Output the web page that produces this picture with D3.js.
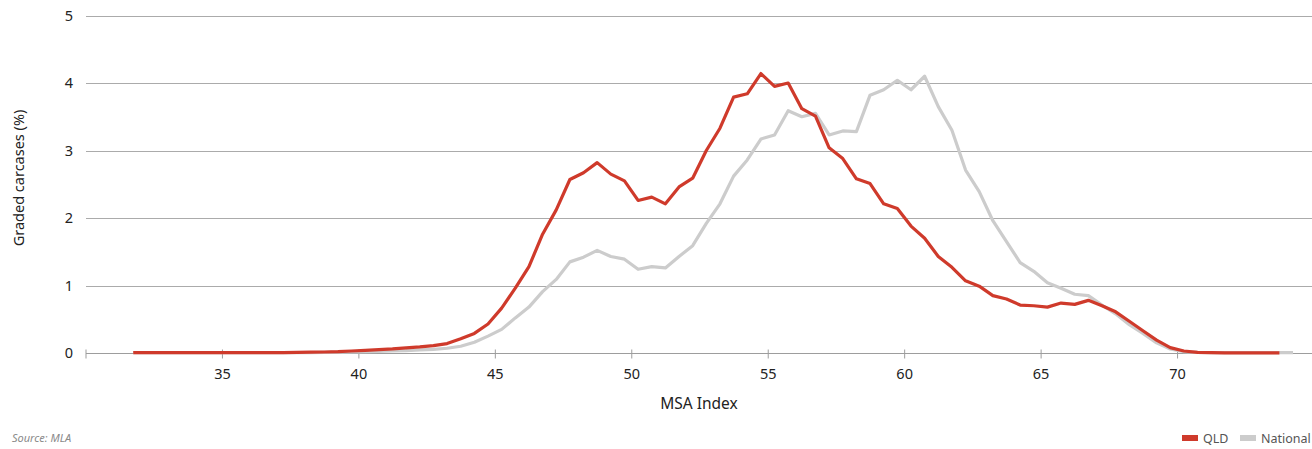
<!DOCTYPE html>
<html>
<head>
<meta charset="utf-8">
<script src="https://cdn.jsdelivr.net/npm/d3@7"></script>
<style>
  html, body { margin: 0; padding: 0; background: #fff; }
  svg { display: block; font-family: "Noto Sans", "Open Sans", sans-serif; }
</style>
</head>
<body>
<svg id="chart" width="1312" height="449"></svg>
<script>
// MSA index bin mid-points
const msa = [31.75, 32.25, 32.75, 33.25, 33.75, 34.25, 34.75, 35.25, 35.75, 36.25,
  36.75, 37.25, 37.75, 38.25, 38.75, 39.25, 39.75, 40.25, 40.75, 41.25,
  41.75, 42.25, 42.75, 43.25, 43.75, 44.25, 44.75, 45.25, 45.75, 46.25,
  46.75, 47.25, 47.75, 48.25, 48.75, 49.25, 49.75, 50.25, 50.75, 51.25,
  51.75, 52.25, 52.75, 53.25, 53.75, 54.25, 54.75, 55.25, 55.75, 56.25,
  56.75, 57.25, 57.75, 58.25, 58.75, 59.25, 59.75, 60.25, 60.75, 61.25,
  61.75, 62.25, 62.75, 63.25, 63.75, 64.25, 64.75, 65.25, 65.75, 66.25,
  66.75, 67.25, 67.75, 68.25, 68.75, 69.25, 69.75, 70.25, 70.75, 71.25,
  71.75, 72.25, 72.75, 73.25, 73.75, 74.25];

const qld = [0.005, 0.005, 0.005, 0.005, 0.005, 0.005, 0.005, 0.005, 0.005, 0.005,
  0.005, 0.007, 0.01, 0.012, 0.015, 0.02, 0.03, 0.04, 0.05, 0.06,
  0.075, 0.09, 0.11, 0.14, 0.21, 0.29, 0.43, 0.665, 0.96, 1.28,
  1.76, 2.12, 2.57, 2.67, 2.82, 2.65, 2.55, 2.26, 2.31, 2.21,
  2.46, 2.59, 3.0, 3.33, 3.79, 3.84, 4.14, 3.95, 4.0, 3.62,
  3.51, 3.04, 2.88, 2.58, 2.51, 2.21, 2.14, 1.88, 1.70, 1.43,
  1.27, 1.07, 0.99, 0.85, 0.80, 0.71, 0.70, 0.68, 0.74, 0.72,
  0.78, 0.70, 0.61, 0.47, 0.33, 0.19, 0.08, 0.03, 0.01, 0.005,
  0.003, 0.003, 0.003, 0.003, 0.003];

const national = [0.005, 0.005, 0.005, 0.005, 0.005, 0.005, 0.005, 0.005, 0.005, 0.005,
  0.007, 0.007, 0.007, 0.007, 0.01, 0.012, 0.015, 0.02, 0.025, 0.03,
  0.035, 0.045, 0.055, 0.07, 0.1, 0.16, 0.25, 0.35, 0.52, 0.68,
  0.91, 1.09, 1.35, 1.42, 1.52, 1.43, 1.39, 1.24, 1.28, 1.26,
  1.43, 1.59, 1.92, 2.21, 2.62, 2.86, 3.17, 3.23, 3.59, 3.50,
  3.55, 3.23, 3.29, 3.28, 3.82, 3.90, 4.04, 3.90, 4.10, 3.65,
  3.30, 2.71, 2.39, 1.96, 1.65, 1.34, 1.21, 1.04, 0.96, 0.87,
  0.85, 0.71, 0.58, 0.42, 0.29, 0.15, 0.06, 0.02, 0.01, 0.005,
  0.005, 0.005, 0.005, 0.005, 0.005, 0.005];

const xTicks = [30, 35, 40, 45, 50, 55, 60, 65, 70, 75];
const xTickLabels = ["", "35", "40", "45", "50", "55", "60", "65", "70", ""];
const yTicks = [0, 1, 2, 3, 4, 5];

const seriesNames = ["QLD", "National"];
const seriesColors = ["#cf3a2b", "#cccccc"];

const svg = d3.select("#chart");

const x = d3.scaleLinear().domain([30, 75]).range([85.5, 1313.5]);
const y = d3.scaleLinear().domain([0, 5]).range([353, 15.5]);

// gridlines + y labels
const yAxis = d3.axisLeft(y).tickValues(yTicks).tickSize(0).tickPadding(13)
  .tickFormat(d3.format("d"));
const gy = svg.append("g").attr("transform", "translate(86,0)").call(yAxis);
gy.select(".domain").remove();
gy.selectAll("text").attr("font-size", 14.5).attr("fill", "#222")
  .attr("font-family", "'Noto Sans', 'Open Sans', sans-serif");

svg.append("g").selectAll("line").data(yTicks.filter(d => d > 0)).join("line")
  .attr("x1", 86).attr("x2", 1312)
  .attr("y1", d => Math.round(y(d)) + 0.5).attr("y2", d => Math.round(y(d)) + 0.5)
  .attr("stroke", "#ababab").attr("stroke-width", 1);

// x axis
const xAxis = d3.axisBottom(x).tickValues(xTicks).tickSizeInner(5).tickSizeOuter(0)
  .tickPadding(10).tickFormat((d, i) => xTickLabels[i]);
const gx = svg.append("g").attr("transform", `translate(0,${Math.round(y(0)) + 0.5})`).call(xAxis);
gx.select(".domain").attr("stroke", "#9d9d9d").attr("d", "M86,0H1312");
gx.selectAll(".tick line").attr("stroke", "#9d9d9d").attr("y1", -4);
gx.selectAll("text").attr("font-size", 14.5).attr("fill", "#222")
  .attr("font-family", "'Noto Sans', 'Open Sans', sans-serif");

// lines
const line = d3.line().x((d, i) => x(msa[i])).y(d => y(d));
svg.append("path").datum(national).attr("d", line)
  .attr("fill", "none").attr("stroke", seriesColors[1]).attr("stroke-width", 3.2)
  .attr("stroke-linejoin", "round");
svg.append("path").datum(qld).attr("d", line)
  .attr("fill", "none").attr("stroke", seriesColors[0]).attr("stroke-width", 3.2)
  .attr("stroke-linejoin", "round");

// axis titles
svg.append("text").attr("transform", "translate(24,178) rotate(-90)")
  .attr("text-anchor", "middle").attr("font-size", 14.5).attr("fill", "#222")
  .text("Graded carcases (%)");
svg.append("text").attr("x", 699).attr("y", 409)
  .attr("text-anchor", "middle").attr("font-size", 15.5).attr("fill", "#222")
  .text("MSA Index");

// source
svg.append("text").attr("x", 12).attr("y", 442)
  .attr("font-size", 11).attr("font-style", "italic").attr("fill", "#8a8a8a")
  .text("Source: MLA");

// legend
const legX = [1182, 1240];
const lg = svg.append("g").selectAll("g").data(seriesNames).join("g")
  .attr("transform", (d, i) => `translate(${legX[i]},438)`);
lg.append("rect").attr("x", 0).attr("y", -3).attr("width", 16).attr("height", 6)
  .attr("fill", (d, i) => seriesColors[i]);
lg.append("text").attr("x", 21).attr("y", 5).attr("font-size", 12.5).attr("fill", "#555")
  .text(d => d);
</script>
</body>
</html>
